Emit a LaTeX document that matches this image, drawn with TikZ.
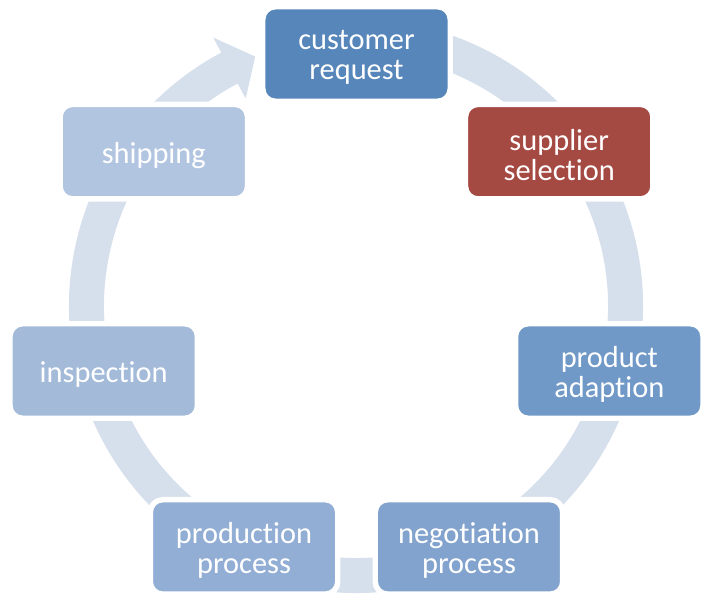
\documentclass[tikz,border=0pt]{standalone}
\usepackage{fontspec}
\setmainfont{Carlito}[Ligatures=NoCommon]
\definecolor{ringblue}{HTML}{D6DFEC}
\definecolor{custblue}{HTML}{5686BA}
\definecolor{supred}{HTML}{A54A43}
\definecolor{prodblue}{HTML}{7099C7}
\definecolor{negblue}{HTML}{82A3CD}
\definecolor{procblue}{HTML}{93AED5}
\definecolor{inspblue}{HTML}{A3BAD9}
\definecolor{shipblue}{HTML}{B2C5E0}
\tikzset{stage/.style={draw=white, line width=3.1pt, rounded corners=0.25cm,
    minimum width=3.75cm, minimum height=1.89cm, inner sep=0pt},
  stagetext/.style={align=center, text=white, yshift=-0.07cm,
    font=\fontsize{17.3}{17.1}\selectfont}}
\begin{document}
\begin{tikzpicture}[x=0.02cm, y=0.02cm]
  \useasboundingbox (0,0) rectangle (717,603);
  \fill[ringblue, shift={(356,297)}] (80:287) arc[start angle=80, end angle=-242,
    radius=287] -- (118:304) -- (112:269) -- (118:235) -- (118:252)
    arc[start angle=-242, end angle=80, radius=252] -- cycle;
  \foreach \a/\c/\t [count=\i] in {90/custblue/{customer\\request},
      38.57/supred/{supplier\\selection}, -12.86/prodblue/{product\\adaption},
      -64.29/negblue/{negotiation\\process}, -115.71/procblue/{production\\process},
      -167.14/inspblue/inspection, 141.43/shipblue/shipping} {
    \node[stage, fill=\c, label={[stagetext]center:\t}] (s\i)
      at ([shift={(356.5,289.7)}]\a:259.3) {};
  }
\end{tikzpicture}
\end{document}
